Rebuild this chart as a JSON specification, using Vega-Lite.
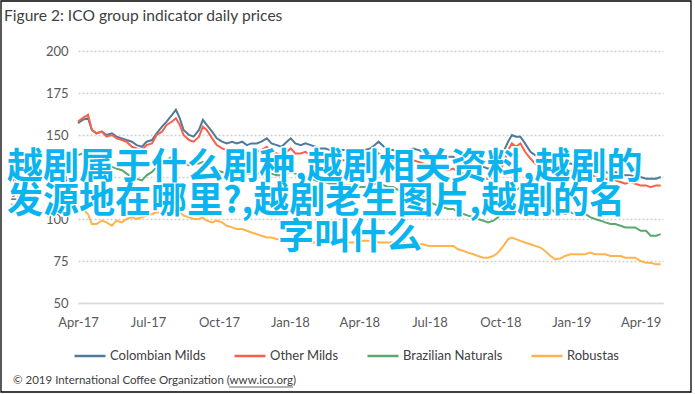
{
  "$schema": "https://vega.github.io/schema/vega-lite/v6.json",
  "width": 585,
  "height": 252,
  "autosize": {"type": "none"},
  "padding": {"left": 78, "top": 51, "right": 32, "bottom": 91},
  "background": "white",
  "config": {
    "view": {"stroke": null},
    "font": "Lato",
    "axis": {"labelFont": "Lato", "titleFont": "Lato"},
    "legend": {"labelFont": "Lato"}
  },
  "layer": [
    {
      "data": {"values": [
        {"date":"2017-04-01","Colombian Milds":157,"Other Milds":158,"Brazilian Naturals":138,"Robustas":108},
        {"date":"2017-04-07","Colombian Milds":159,"Other Milds":160,"Brazilian Naturals":139,"Robustas":106},
        {"date":"2017-04-14","Colombian Milds":160,"Other Milds":162,"Brazilian Naturals":140,"Robustas":103},
        {"date":"2017-04-19","Colombian Milds":153,"Other Milds":153,"Brazilian Naturals":137,"Robustas":97},
        {"date":"2017-04-25","Colombian Milds":151,"Other Milds":151,"Brazilian Naturals":136,"Robustas":97},
        {"date":"2017-05-02","Colombian Milds":152,"Other Milds":152,"Brazilian Naturals":134,"Robustas":99},
        {"date":"2017-05-08","Colombian Milds":150,"Other Milds":149,"Brazilian Naturals":131,"Robustas":98},
        {"date":"2017-05-15","Colombian Milds":151,"Other Milds":150,"Brazilian Naturals":131,"Robustas":96},
        {"date":"2017-05-21","Colombian Milds":149,"Other Milds":148,"Brazilian Naturals":130,"Robustas":99},
        {"date":"2017-05-28","Colombian Milds":148,"Other Milds":147,"Brazilian Naturals":129,"Robustas":98},
        {"date":"2017-06-03","Colombian Milds":147,"Other Milds":146,"Brazilian Naturals":127,"Robustas":100},
        {"date":"2017-06-10","Colombian Milds":146,"Other Milds":143,"Brazilian Naturals":125,"Robustas":101},
        {"date":"2017-06-16","Colombian Milds":144,"Other Milds":142,"Brazilian Naturals":124,"Robustas":100},
        {"date":"2017-06-23","Colombian Milds":143,"Other Milds":141,"Brazilian Naturals":123,"Robustas":101},
        {"date":"2017-06-29","Colombian Milds":146,"Other Milds":144,"Brazilian Naturals":126,"Robustas":102},
        {"date":"2017-07-06","Colombian Milds":147,"Other Milds":145,"Brazilian Naturals":128,"Robustas":103},
        {"date":"2017-07-12","Colombian Milds":151,"Other Milds":150,"Brazilian Naturals":131,"Robustas":104},
        {"date":"2017-07-19","Colombian Milds":155,"Other Milds":152,"Brazilian Naturals":133,"Robustas":103},
        {"date":"2017-07-25","Colombian Milds":158,"Other Milds":156,"Brazilian Naturals":135,"Robustas":105},
        {"date":"2017-08-01","Colombian Milds":162,"Other Milds":158,"Brazilian Naturals":137,"Robustas":106},
        {"date":"2017-08-06","Colombian Milds":165,"Other Milds":160,"Brazilian Naturals":137,"Robustas":105},
        {"date":"2017-08-11","Colombian Milds":160,"Other Milds":156,"Brazilian Naturals":135,"Robustas":104},
        {"date":"2017-08-16","Colombian Milds":153,"Other Milds":150,"Brazilian Naturals":133,"Robustas":102},
        {"date":"2017-08-23","Colombian Milds":150,"Other Milds":147,"Brazilian Naturals":132,"Robustas":101},
        {"date":"2017-08-29","Colombian Milds":149,"Other Milds":146,"Brazilian Naturals":133,"Robustas":100},
        {"date":"2017-09-05","Colombian Milds":153,"Other Milds":149,"Brazilian Naturals":133,"Robustas":100},
        {"date":"2017-09-10","Colombian Milds":159,"Other Milds":155,"Brazilian Naturals":134,"Robustas":101},
        {"date":"2017-09-15","Colombian Milds":156,"Other Milds":153,"Brazilian Naturals":132,"Robustas":99},
        {"date":"2017-09-22","Colombian Milds":152,"Other Milds":148,"Brazilian Naturals":130,"Robustas":98},
        {"date":"2017-09-28","Colombian Milds":148,"Other Milds":144,"Brazilian Naturals":129,"Robustas":99},
        {"date":"2017-10-05","Colombian Milds":146,"Other Milds":142,"Brazilian Naturals":128,"Robustas":98},
        {"date":"2017-10-11","Colombian Milds":145,"Other Milds":141,"Brazilian Naturals":127,"Robustas":96},
        {"date":"2017-10-18","Colombian Milds":146,"Other Milds":141,"Brazilian Naturals":127,"Robustas":95},
        {"date":"2017-10-24","Colombian Milds":145,"Other Milds":140,"Brazilian Naturals":127,"Robustas":94},
        {"date":"2017-10-31","Colombian Milds":146,"Other Milds":141,"Brazilian Naturals":128,"Robustas":94},
        {"date":"2017-11-06","Colombian Milds":144,"Other Milds":139,"Brazilian Naturals":127,"Robustas":93},
        {"date":"2017-11-12","Colombian Milds":145,"Other Milds":140,"Brazilian Naturals":127,"Robustas":92},
        {"date":"2017-11-19","Colombian Milds":145,"Other Milds":140,"Brazilian Naturals":127,"Robustas":91},
        {"date":"2017-11-25","Colombian Milds":146,"Other Milds":141,"Brazilian Naturals":128,"Robustas":90},
        {"date":"2017-12-02","Colombian Milds":148,"Other Milds":143,"Brazilian Naturals":129,"Robustas":89},
        {"date":"2017-12-08","Colombian Milds":145,"Other Milds":140,"Brazilian Naturals":127,"Robustas":89},
        {"date":"2017-12-15","Colombian Milds":144,"Other Milds":139,"Brazilian Naturals":126,"Robustas":88},
        {"date":"2017-12-21","Colombian Milds":143,"Other Milds":138,"Brazilian Naturals":126,"Robustas":88},
        {"date":"2017-12-28","Colombian Milds":146,"Other Milds":140,"Brazilian Naturals":127,"Robustas":88},
        {"date":"2018-01-02","Colombian Milds":148,"Other Milds":142,"Brazilian Naturals":128,"Robustas":87},
        {"date":"2018-01-08","Colombian Milds":145,"Other Milds":139,"Brazilian Naturals":127,"Robustas":88},
        {"date":"2018-01-15","Colombian Milds":144,"Other Milds":139,"Brazilian Naturals":126,"Robustas":87},
        {"date":"2018-01-21","Colombian Milds":145,"Other Milds":140,"Brazilian Naturals":125,"Robustas":87},
        {"date":"2018-01-28","Colombian Milds":144,"Other Milds":138,"Brazilian Naturals":124,"Robustas":86},
        {"date":"2018-02-03","Colombian Milds":143,"Other Milds":137,"Brazilian Naturals":123,"Robustas":86},
        {"date":"2018-02-09","Colombian Milds":142,"Other Milds":137,"Brazilian Naturals":122,"Robustas":86},
        {"date":"2018-02-16","Colombian Milds":142,"Other Milds":136,"Brazilian Naturals":122,"Robustas":87},
        {"date":"2018-02-22","Colombian Milds":141,"Other Milds":136,"Brazilian Naturals":121,"Robustas":86},
        {"date":"2018-03-01","Colombian Milds":141,"Other Milds":135,"Brazilian Naturals":121,"Robustas":86},
        {"date":"2018-03-07","Colombian Milds":141,"Other Milds":135,"Brazilian Naturals":120,"Robustas":86},
        {"date":"2018-03-14","Colombian Milds":141,"Other Milds":135,"Brazilian Naturals":120,"Robustas":86},
        {"date":"2018-03-20","Colombian Milds":140,"Other Milds":134,"Brazilian Naturals":120,"Robustas":86},
        {"date":"2018-03-27","Colombian Milds":141,"Other Milds":135,"Brazilian Naturals":120,"Robustas":86},
        {"date":"2018-04-02","Colombian Milds":140,"Other Milds":134,"Brazilian Naturals":119,"Robustas":87},
        {"date":"2018-04-08","Colombian Milds":141,"Other Milds":135,"Brazilian Naturals":119,"Robustas":87},
        {"date":"2018-04-15","Colombian Milds":142,"Other Milds":136,"Brazilian Naturals":120,"Robustas":87},
        {"date":"2018-04-21","Colombian Milds":144,"Other Milds":138,"Brazilian Naturals":121,"Robustas":87},
        {"date":"2018-04-26","Colombian Milds":146,"Other Milds":139,"Brazilian Naturals":121,"Robustas":86},
        {"date":"2018-05-03","Colombian Milds":143,"Other Milds":137,"Brazilian Naturals":120,"Robustas":86},
        {"date":"2018-05-09","Colombian Milds":141,"Other Milds":135,"Brazilian Naturals":119,"Robustas":86},
        {"date":"2018-05-15","Colombian Milds":141,"Other Milds":135,"Brazilian Naturals":119,"Robustas":86},
        {"date":"2018-05-22","Colombian Milds":140,"Other Milds":134,"Brazilian Naturals":117,"Robustas":86},
        {"date":"2018-05-28","Colombian Milds":141,"Other Milds":135,"Brazilian Naturals":116,"Robustas":86},
        {"date":"2018-06-04","Colombian Milds":141,"Other Milds":134,"Brazilian Naturals":115,"Robustas":85},
        {"date":"2018-06-10","Colombian Milds":142,"Other Milds":135,"Brazilian Naturals":115,"Robustas":85},
        {"date":"2018-06-17","Colombian Milds":141,"Other Milds":134,"Brazilian Naturals":114,"Robustas":85},
        {"date":"2018-06-23","Colombian Milds":140,"Other Milds":133,"Brazilian Naturals":113,"Robustas":85},
        {"date":"2018-06-30","Colombian Milds":139,"Other Milds":132,"Brazilian Naturals":111,"Robustas":84},
        {"date":"2018-07-06","Colombian Milds":138,"Other Milds":131,"Brazilian Naturals":109,"Robustas":84},
        {"date":"2018-07-12","Colombian Milds":138,"Other Milds":131,"Brazilian Naturals":108,"Robustas":84},
        {"date":"2018-07-19","Colombian Milds":137,"Other Milds":130,"Brazilian Naturals":107,"Robustas":84},
        {"date":"2018-07-25","Colombian Milds":137,"Other Milds":129,"Brazilian Naturals":106,"Robustas":84},
        {"date":"2018-08-01","Colombian Milds":137,"Other Milds":130,"Brazilian Naturals":106,"Robustas":84},
        {"date":"2018-08-07","Colombian Milds":135,"Other Milds":128,"Brazilian Naturals":104,"Robustas":82},
        {"date":"2018-08-14","Colombian Milds":134,"Other Milds":127,"Brazilian Naturals":103,"Robustas":81},
        {"date":"2018-08-20","Colombian Milds":133,"Other Milds":126,"Brazilian Naturals":102,"Robustas":80},
        {"date":"2018-08-27","Colombian Milds":132,"Other Milds":125,"Brazilian Naturals":101,"Robustas":79},
        {"date":"2018-09-02","Colombian Milds":131,"Other Milds":124,"Brazilian Naturals":100,"Robustas":78},
        {"date":"2018-09-09","Colombian Milds":131,"Other Milds":124,"Brazilian Naturals":99,"Robustas":77},
        {"date":"2018-09-15","Colombian Milds":130,"Other Milds":124,"Brazilian Naturals":98,"Robustas":77},
        {"date":"2018-09-22","Colombian Milds":131,"Other Milds":125,"Brazilian Naturals":99,"Robustas":78},
        {"date":"2018-09-28","Colombian Milds":133,"Other Milds":127,"Brazilian Naturals":101,"Robustas":80},
        {"date":"2018-10-05","Colombian Milds":140,"Other Milds":133,"Brazilian Naturals":106,"Robustas":84},
        {"date":"2018-10-11","Colombian Milds":146,"Other Milds":141,"Brazilian Naturals":112,"Robustas":88},
        {"date":"2018-10-16","Colombian Milds":150,"Other Milds":145,"Brazilian Naturals":115,"Robustas":89},
        {"date":"2018-10-21","Colombian Milds":149,"Other Milds":143,"Brazilian Naturals":117,"Robustas":88},
        {"date":"2018-10-27","Colombian Milds":149,"Other Milds":145,"Brazilian Naturals":119,"Robustas":87},
        {"date":"2018-11-02","Colombian Milds":145,"Other Milds":140,"Brazilian Naturals":120,"Robustas":86},
        {"date":"2018-11-09","Colombian Milds":140,"Other Milds":136,"Brazilian Naturals":119,"Robustas":85},
        {"date":"2018-11-15","Colombian Milds":138,"Other Milds":133,"Brazilian Naturals":116,"Robustas":84},
        {"date":"2018-11-22","Colombian Milds":137,"Other Milds":132,"Brazilian Naturals":114,"Robustas":83},
        {"date":"2018-11-28","Colombian Milds":136,"Other Milds":131,"Brazilian Naturals":110,"Robustas":81},
        {"date":"2018-12-05","Colombian Milds":134,"Other Milds":130,"Brazilian Naturals":106,"Robustas":78},
        {"date":"2018-12-11","Colombian Milds":133,"Other Milds":128,"Brazilian Naturals":104,"Robustas":76},
        {"date":"2018-12-18","Colombian Milds":132,"Other Milds":128,"Brazilian Naturals":104,"Robustas":76.5},
        {"date":"2018-12-24","Colombian Milds":133,"Other Milds":129,"Brazilian Naturals":103,"Robustas":78},
        {"date":"2018-12-31","Colombian Milds":133,"Other Milds":129,"Brazilian Naturals":104,"Robustas":79},
        {"date":"2019-01-06","Colombian Milds":132,"Other Milds":128,"Brazilian Naturals":103,"Robustas":79},
        {"date":"2019-01-13","Colombian Milds":133,"Other Milds":129,"Brazilian Naturals":104,"Robustas":79},
        {"date":"2019-01-19","Colombian Milds":132,"Other Milds":128,"Brazilian Naturals":103,"Robustas":79},
        {"date":"2019-01-26","Colombian Milds":131,"Other Milds":127,"Brazilian Naturals":101,"Robustas":80},
        {"date":"2019-02-01","Colombian Milds":130,"Other Milds":125,"Brazilian Naturals":100,"Robustas":79},
        {"date":"2019-02-08","Colombian Milds":129,"Other Milds":124,"Brazilian Naturals":99,"Robustas":79},
        {"date":"2019-02-14","Colombian Milds":128,"Other Milds":124,"Brazilian Naturals":98,"Robustas":79},
        {"date":"2019-02-21","Colombian Milds":127,"Other Milds":123,"Brazilian Naturals":97,"Robustas":78},
        {"date":"2019-02-27","Colombian Milds":128,"Other Milds":123,"Brazilian Naturals":97,"Robustas":78},
        {"date":"2019-03-06","Colombian Milds":127,"Other Milds":122,"Brazilian Naturals":96,"Robustas":78},
        {"date":"2019-03-12","Colombian Milds":126,"Other Milds":121,"Brazilian Naturals":95,"Robustas":77},
        {"date":"2019-03-19","Colombian Milds":126,"Other Milds":122,"Brazilian Naturals":95,"Robustas":77},
        {"date":"2019-03-25","Colombian Milds":125,"Other Milds":121,"Brazilian Naturals":95,"Robustas":77},
        {"date":"2019-04-01","Colombian Milds":125,"Other Milds":120,"Brazilian Naturals":93,"Robustas":75},
        {"date":"2019-04-08","Colombian Milds":124,"Other Milds":120,"Brazilian Naturals":93,"Robustas":74},
        {"date":"2019-04-14","Colombian Milds":124,"Other Milds":119,"Brazilian Naturals":90,"Robustas":74},
        {"date":"2019-04-21","Colombian Milds":124,"Other Milds":120,"Brazilian Naturals":90,"Robustas":73},
        {"date":"2019-04-27","Colombian Milds":125,"Other Milds":120,"Brazilian Naturals":91,"Robustas":73}
      ]},
      "transform": [
        {"fold": ["Colombian Milds", "Other Milds", "Brazilian Naturals", "Robustas"], "as": ["series", "value"]}
      ],
      "mark": {"type": "line", "strokeWidth": 2},
      "encoding": {
        "x": {
          "field": "date", "type": "temporal",
          "scale": {"type": "utc", "domain": ["2017-04-01", "2019-04-30"]},
          "axis": {
            "title": null, "format": "%b-%y",
            "tickCount": {"interval": "month", "step": 3},
            "grid": false, "ticks": false, "domainColor": "#D9D9D9", "domainWidth": 1.5,
            "labelFontSize": 13, "labelColor": "#595959", "labelPadding": 13, "labelFlush": false
          }
        },
        "y": {
          "field": "value", "type": "quantitative",
          "scale": {"domain": [50, 200], "nice": false, "zero": false},
          "axis": {
            "title": "US cents/lb", "titleFontSize": 11, "titleFontWeight": "normal", "titleColor": "#595959",
            "titleX": -63, "titleY": 126, "titleAngle": -90, "titleAlign": "center", "titleBaseline": "middle",
            "values": [50, 75, 100, 125, 150, 175, 200],
            "domain": false, "ticks": false,
            "gridColor": "#CFCFCF", "gridDash": [2, 2], "gridWidth": 1.3,
            "labelFontSize": 13, "labelColor": "#595959", "labelPadding": 10
          }
        },
        "color": {
          "field": "series", "type": "nominal",
          "scale": {"domain": ["Colombian Milds", "Other Milds", "Brazilian Naturals", "Robustas"],
                    "range": ["#4F7A9A", "#FA5F4C", "#5AA86C", "#FDB44E"]},
          "legend": {
            "title": null, "orient": "none", "direction": "horizontal",
            "legendX": -5, "legendY": 288,
            "symbolType": "stroke", "symbolSize": 961, "symbolStrokeWidth": 2.5,
            "labelFontSize": 13, "labelColor": "#404040", "labelOffset": 3, "columnPadding": 23
          }
        }
      }
    },
    {
      "data": {"values": [{"t": "Figure 2: ICO group indicator daily prices"}]},
      "mark": {"type": "text", "align": "left", "baseline": "alphabetic", "fontSize": 15.6, "color": "#404040", "font": "Lato"},
      "encoding": {"text": {"field": "t"}, "x": {"value": -74}, "y": {"value": -30}}
    },
    {
      "data": {"values": [{"t": "© 2019 International Coffee Organization (www.ico.org)"}]},
      "mark": {"type": "text", "align": "left", "baseline": "middle", "fontSize": 11.5, "color": "#404040", "font": "Lato"},
      "encoding": {"text": {"field": "t"}, "x": {"value": -65}, "y": {"value": 330}}
    },
    {
      "data": {"values": [{"k": 1}]},
      "mark": {"type": "rule", "stroke": "#404040", "strokeWidth": 0.8},
      "encoding": {"x": {"value": 151}, "x2": {"value": 215}, "y": {"value": 336}}
    },
    {
      "data": {"values": [{"k": 1}]},
      "mark": {"type": "rect", "filled": false, "stroke": "#000000", "strokeWidth": 1.3},
      "encoding": {"x": {"value": -77}, "x2": {"value": 613}, "y": {"value": -50}, "y2": {"value": 341}}
    },
    {
      "data": {"values": [{"t": "越剧属于什么剧种,越剧相关资料,越剧的"}]},
      "mark": {"type": "text", "align": "left", "baseline": "middle", "font": "Noto Sans CJK SC", "fontSize": 36, "fontWeight": "bold", "fill": "white", "stroke": "white", "strokeWidth": 3, "strokeJoin": "round"},
      "encoding": {"text": {"field": "t"}, "x": {"value": -71}, "y": {"value": 117}}
    },
    {
      "data": {"values": [{"t": "发源地在哪里?,越剧老生图片,越剧的名"}]},
      "mark": {"type": "text", "align": "left", "baseline": "middle", "font": "Noto Sans CJK SC", "fontSize": 36, "fontWeight": "bold", "fill": "white", "stroke": "white", "strokeWidth": 3, "strokeJoin": "round"},
      "encoding": {"text": {"field": "t"}, "x": {"value": -71}, "y": {"value": 151}}
    },
    {
      "data": {"values": [{"t": "字叫什么"}]},
      "mark": {"type": "text", "align": "left", "baseline": "middle", "font": "Noto Sans CJK SC", "fontSize": 36, "fontWeight": "bold", "fill": "white", "stroke": "white", "strokeWidth": 3, "strokeJoin": "round"},
      "encoding": {"text": {"field": "t"}, "x": {"value": 200}, "y": {"value": 187}}
    },
    {
      "data": {"values": [{"t": "越剧属于什么剧种,越剧相关资料,越剧的"}]},
      "mark": {"type": "text", "align": "left", "baseline": "middle", "font": "Noto Sans CJK SC", "fontSize": 36, "fontWeight": "bold", "fill": "#0AB4EF"},
      "encoding": {"text": {"field": "t"}, "x": {"value": -71}, "y": {"value": 117}}
    },
    {
      "data": {"values": [{"t": "发源地在哪里?,越剧老生图片,越剧的名"}]},
      "mark": {"type": "text", "align": "left", "baseline": "middle", "font": "Noto Sans CJK SC", "fontSize": 36, "fontWeight": "bold", "fill": "#0AB4EF"},
      "encoding": {"text": {"field": "t"}, "x": {"value": -71}, "y": {"value": 151}}
    },
    {
      "data": {"values": [{"t": "字叫什么"}]},
      "mark": {"type": "text", "align": "left", "baseline": "middle", "font": "Noto Sans CJK SC", "fontSize": 36, "fontWeight": "bold", "fill": "#0AB4EF"},
      "encoding": {"text": {"field": "t"}, "x": {"value": 200}, "y": {"value": 187}}
    }
  ]
}
